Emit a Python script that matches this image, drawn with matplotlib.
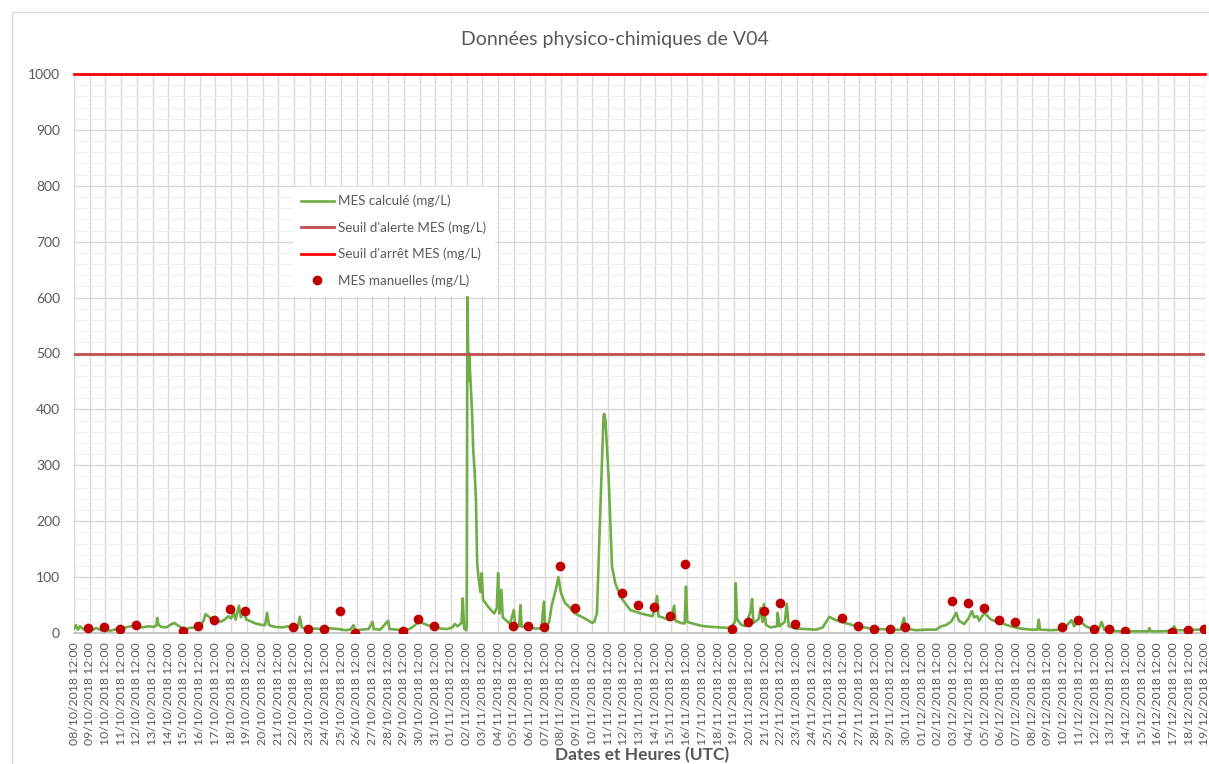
import matplotlib
matplotlib.use("Agg")
import matplotlib.pyplot as plt
import matplotlib.dates as mdates
import pandas as pd
from matplotlib.patches import Rectangle

plt.rcParams['font.family'] = ['Lato', 'DejaVu Sans']

# ---------------- data ----------------
title = "Données physico-chimiques de V04"
xlabel = "Dates et Heures (UTC)"

mes_calc_times = [
    "2018-10-08 12:00", "2018-10-08 15:00", "2018-10-08 18:00", "2018-10-08 21:00", "2018-10-09 03:00",
    "2018-10-09 10:00", "2018-10-09 16:00", "2018-10-09 22:00", "2018-10-10 05:00", "2018-10-10 12:00",
    "2018-10-10 20:00", "2018-10-11 04:00", "2018-10-11 11:00", "2018-10-11 19:00", "2018-10-12 03:00",
    "2018-10-12 11:00", "2018-10-12 20:00", "2018-10-13 06:00", "2018-10-13 15:00", "2018-10-13 18:00",
    "2018-10-13 19:00", "2018-10-13 21:00", "2018-10-14 01:00", "2018-10-14 09:00", "2018-10-14 16:00",
    "2018-10-14 21:00", "2018-10-15 02:00", "2018-10-15 08:00", "2018-10-15 14:00", "2018-10-15 20:00",
    "2018-10-16 05:00", "2018-10-16 12:00", "2018-10-16 18:00", "2018-10-16 21:00", "2018-10-17 03:00",
    "2018-10-17 08:00", "2018-10-17 14:00", "2018-10-17 20:00", "2018-10-18 02:00", "2018-10-18 08:00",
    "2018-10-18 12:00", "2018-10-18 16:00", "2018-10-18 19:00", "2018-10-19 00:00", "2018-10-19 03:00",
    "2018-10-19 08:00", "2018-10-19 11:00", "2018-10-19 16:00", "2018-10-20 01:00", "2018-10-20 08:00",
    "2018-10-20 16:00", "2018-10-20 19:00", "2018-10-20 22:00", "2018-10-21 07:00", "2018-10-21 18:00",
    "2018-10-22 03:00", "2018-10-22 09:00", "2018-10-22 18:00", "2018-10-22 21:00", "2018-10-23 00:00",
    "2018-10-23 10:00", "2018-10-23 21:00", "2018-10-24 05:00", "2018-10-24 14:00", "2018-10-25 00:00",
    "2018-10-25 09:00", "2018-10-25 18:00", "2018-10-26 02:00", "2018-10-26 07:00", "2018-10-26 10:00",
    "2018-10-26 20:00", "2018-10-27 06:00", "2018-10-27 12:00", "2018-10-27 14:00", "2018-10-28 00:00",
    "2018-10-28 12:00", "2018-10-28 14:00", "2018-10-29 02:00", "2018-10-29 12:00", "2018-10-29 22:00",
    "2018-10-30 06:00", "2018-10-30 12:00", "2018-10-30 16:00", "2018-10-31 00:00", "2018-10-31 10:00",
    "2018-10-31 20:00", "2018-11-01 06:00", "2018-11-01 14:00", "2018-11-01 18:00", "2018-11-01 22:00",
    "2018-11-02 04:00", "2018-11-02 06:00", "2018-11-02 08:00", "2018-11-02 11:00", "2018-11-02 12:00",
    "2018-11-02 13:00", "2018-11-02 14:00", "2018-11-02 15:00", "2018-11-02 16:00", "2018-11-02 17:00",
    "2018-11-02 20:00", "2018-11-02 22:00", "2018-11-03 00:00", "2018-11-03 02:00", "2018-11-03 04:00",
    "2018-11-03 06:00", "2018-11-03 09:00", "2018-11-03 11:00", "2018-11-03 13:00", "2018-11-03 16:00",
    "2018-11-03 20:00", "2018-11-04 02:00", "2018-11-04 06:00", "2018-11-04 10:00", "2018-11-04 12:00",
    "2018-11-04 14:00", "2018-11-04 17:00", "2018-11-04 19:00", "2018-11-05 00:00", "2018-11-05 06:00",
    "2018-11-05 12:00", "2018-11-05 14:00", "2018-11-05 20:00", "2018-11-05 22:00", "2018-11-06 00:00",
    "2018-11-06 06:00", "2018-11-06 14:00", "2018-11-06 22:00", "2018-11-07 06:00", "2018-11-07 10:00",
    "2018-11-07 12:00", "2018-11-07 18:00", "2018-11-07 22:00", "2018-11-08 04:00", "2018-11-08 08:00",
    "2018-11-08 12:00", "2018-11-08 18:00", "2018-11-09 02:00", "2018-11-09 08:00", "2018-11-09 18:00",
    "2018-11-10 02:00", "2018-11-10 09:00", "2018-11-10 12:00", "2018-11-10 15:00", "2018-11-10 19:00",
    "2018-11-11 00:00", "2018-11-11 05:00", "2018-11-11 06:00", "2018-11-11 08:00", "2018-11-11 13:00",
    "2018-11-11 18:00", "2018-11-11 23:00", "2018-11-12 07:00", "2018-11-12 15:00", "2018-11-12 22:00",
    "2018-11-13 14:00", "2018-11-14 00:00", "2018-11-14 08:00", "2018-11-14 15:00", "2018-11-14 17:00",
    "2018-11-14 23:00", "2018-11-15 09:00", "2018-11-15 13:00", "2018-11-15 17:00", "2018-11-15 19:00",
    "2018-11-16 03:00", "2018-11-16 09:00", "2018-11-16 11:00", "2018-11-16 13:00", "2018-11-16 18:00",
    "2018-11-17 10:00", "2018-11-18 01:00", "2018-11-18 16:00", "2018-11-19 07:00", "2018-11-19 14:00",
    "2018-11-19 15:00", "2018-11-19 17:00", "2018-11-19 23:00", "2018-11-20 06:00", "2018-11-20 14:00",
    "2018-11-20 16:00", "2018-11-20 18:00", "2018-11-21 02:00", "2018-11-21 05:00", "2018-11-21 08:00",
    "2018-11-21 10:00", "2018-11-21 13:00", "2018-11-21 20:00", "2018-11-22 06:00", "2018-11-22 07:00",
    "2018-11-22 10:00", "2018-11-22 18:00", "2018-11-22 21:00", "2018-11-23 00:00", "2018-11-23 11:00",
    "2018-11-24 02:00", "2018-11-24 18:00", "2018-11-25 04:00", "2018-11-25 14:00", "2018-11-25 22:00",
    "2018-11-26 08:00", "2018-11-26 23:00", "2018-11-27 14:00", "2018-11-28 06:00", "2018-11-28 21:00",
    "2018-11-29 12:00", "2018-11-30 03:00", "2018-11-30 08:00", "2018-11-30 11:00", "2018-12-01 02:00",
    "2018-12-01 18:00", "2018-12-02 09:00", "2018-12-02 17:00", "2018-12-03 00:00", "2018-12-03 08:00",
    "2018-12-03 16:00", "2018-12-03 20:00", "2018-12-04 04:00", "2018-12-04 10:00", "2018-12-04 16:00",
    "2018-12-04 19:00", "2018-12-05 00:00", "2018-12-05 03:00", "2018-12-05 11:00", "2018-12-05 21:00",
    "2018-12-06 12:00", "2018-12-07 03:00", "2018-12-07 18:00", "2018-12-08 10:00", "2018-12-08 20:00",
    "2018-12-08 22:00", "2018-12-09 00:00", "2018-12-09 17:00", "2018-12-10 08:00", "2018-12-10 16:00",
    "2018-12-11 00:00", "2018-12-11 04:00", "2018-12-11 12:00", "2018-12-11 22:00", "2018-12-12 11:00",
    "2018-12-12 18:00", "2018-12-12 22:00", "2018-12-13 02:00", "2018-12-13 13:00", "2018-12-14 04:00",
    "2018-12-14 19:00", "2018-12-15 11:00", "2018-12-15 21:00", "2018-12-15 23:00", "2018-12-16 01:00",
    "2018-12-16 17:00", "2018-12-17 08:00", "2018-12-17 13:00", "2018-12-17 16:00", "2018-12-18 07:00",
    "2018-12-18 23:00", "2018-12-19 12:00",
]
mes_calc_values = [
    8, 14, 6, 12, 6,
    8, 5, 9, 5, 6,
    4, 7, 6, 10, 12,
    13, 10, 12, 11, 14,
    27, 15, 11, 10, 15,
    18, 14, 10, 6, 9,
    10, 12, 22, 34, 28,
    22, 24, 20, 24, 30,
    26, 36, 24, 49, 28,
    38, 24, 22, 17, 15,
    14, 36, 14, 11, 10,
    12, 8, 10, 29, 10,
    7, 8, 7, 9, 8,
    7, 5, 6, 14, 5,
    6, 7, 20, 7, 6,
    22, 7, 6, 4, 8,
    15, 22, 18, 14, 11,
    8, 7, 10, 16, 12,
    18, 62, 8, 5, 10,
    603, 520, 452, 500, 470,
    400, 327, 290, 243, 125,
    100, 73, 107, 59, 55,
    48, 40, 35, 45, 107,
    35, 77, 28, 23, 16,
    41, 14, 12, 50, 11,
    12, 9, 8, 8, 56,
    10, 20, 50, 77, 100,
    72, 54, 45, 36, 30,
    25, 20, 18, 20, 36,
    215, 387, 392, 380, 274,
    119, 89, 65, 52, 41,
    35, 32, 30, 66, 30,
    28, 23, 30, 49, 22,
    18, 17, 83, 20, 18,
    13, 11, 10, 9, 20,
    89, 25, 15, 12, 40,
    61, 18, 25, 45, 20,
    52, 15, 10, 12, 36,
    12, 20, 52, 12, 8,
    7, 6, 10, 29, 24,
    20, 15, 11, 8, 7,
    6, 6, 27, 8, 5,
    6, 6, 12, 14, 20,
    36, 22, 16, 25, 39,
    28, 30, 22, 36, 24,
    18, 12, 8, 6, 6,
    24, 6, 5, 6, 12,
    23, 12, 22, 12, 6,
    8, 20, 6, 4, 3,
    3, 3, 3, 9, 3,
    3, 4, 12, 5, 5,
    6, 6,
]

mes_manual_dates = [
    "2018-10-09", "2018-10-10", "2018-10-11", "2018-10-12", "2018-10-15", "2018-10-16", "2018-10-17",
    "2018-10-18", "2018-10-19", "2018-10-22", "2018-10-23", "2018-10-24", "2018-10-25", "2018-10-26",
    "2018-10-29", "2018-10-30", "2018-10-31", "2018-11-05", "2018-11-06", "2018-11-07", "2018-11-08",
    "2018-11-09", "2018-11-12", "2018-11-13", "2018-11-14", "2018-11-15", "2018-11-16", "2018-11-19",
    "2018-11-20", "2018-11-21", "2018-11-22", "2018-11-23", "2018-11-26", "2018-11-27", "2018-11-28",
    "2018-11-29", "2018-11-30", "2018-12-03", "2018-12-04", "2018-12-05", "2018-12-06", "2018-12-07",
    "2018-12-10", "2018-12-11", "2018-12-12", "2018-12-13", "2018-12-14", "2018-12-17", "2018-12-18",
    "2018-12-19",
]
mes_manual_hour = "10:00"
mes_manual_values = [
    9.5, 10, 8, 14, 4, 13, 24,
    43, 39, 11, 8, 8, 39, 0.5,
    3, 25, 12, 12, 13, 11, 120,
    44, 71, 50, 46, 31, 123, 8,
    19, 39, 53, 16, 27, 12, 8,
    7, 11, 58, 54, 44, 23, 20,
    10, 23, 7, 7, 4, 1, 5,
    7,
]

seuil_alerte = 500
seuil_arret = 1000

axis_start = "2018-10-08 12:00"
axis_end = "2018-12-19 12:00"
y_ticks = list(range(0, 1001, 100))

labels = ["MES calculé (mg/L)", "Seuil d'alerte MES (mg/L)",
          "Seuil d'arrêt MES (mg/L)", "MES manuelles (mg/L)"]

# ---------------- plot ----------------
W, H = 1209, 764
fig = plt.figure(figsize=(W / 100, H / 100), dpi=100)
fig.patch.set_facecolor("white")

# chart-area border like Excel
fig.patches.append(Rectangle((12 / W, -0.01), 1.2, 1 - 12 / H + 0.01, transform=fig.transFigure,
                             fill=False, edgecolor="#D9D9D9", lw=1, zorder=0))

ax = fig.add_axes([74 / W, 1 - 633 / H, (1205 - 74) / W, (633 - 74) / H])

t_calc = pd.to_datetime(mes_calc_times)
t_man = pd.to_datetime([d + " " + mes_manual_hour for d in mes_manual_dates])
x0 = pd.Timestamp(axis_start)
x1 = pd.Timestamp(axis_end)

grey_txt = "#595959"

l1, = ax.plot(t_calc, mes_calc_values, color="#70AD47", lw=1.9, zorder=3)
l2 = ax.axhline(seuil_alerte, color="#C0504D", lw=2, zorder=4)
l3 = ax.axhline(seuil_arret, color="#FF0000", lw=2, zorder=4, clip_on=False)
l4, = ax.plot(t_man, mes_manual_values, linestyle="none", marker="o", ms=7,
              color="#C00000", markeredgewidth=0, zorder=5)

ax.set_xlim(x0, x1)
ax.set_ylim(0, 1000)
ax.set_yticks(y_ticks)
ax.set_yticks(range(0, 1001, 20), minor=True)

day_ticks = pd.date_range(x0, x1, freq="D")
ax.set_xticks(day_ticks)
ax.set_xticklabels([d.strftime("%d/%m/%Y %H:%M") for d in day_ticks], rotation=90)

ax.grid(which="major", axis="both", color="#D9D9D9", lw=1, zorder=0)
ax.grid(which="minor", axis="y", color="#F0F0F0", lw=0.8, zorder=0)
ax.set_axisbelow(True)

ax.tick_params(axis="both", which="both", length=0)
ax.tick_params(axis="y", labelsize=10, labelcolor=grey_txt, pad=10)
ax.tick_params(axis="x", labelsize=8.8, labelcolor=grey_txt, pad=7)

for s in ["top", "right"]:
    ax.spines[s].set_visible(False)
ax.spines["left"].set_color("#D9D9D9")
ax.spines["bottom"].set_color("#BFBFBF")
ax.spines["bottom"].set_linewidth(1.2)

fig.text(615 / W, 1 - 40 / H, title, ha="center", va="center", fontsize=14, color=grey_txt)
fig.text(642 / W, 1 - 763 / H, xlabel, ha="center", va="bottom", fontsize=12.5,
         fontweight="bold", color=grey_txt)

leg = ax.legend([l1, l2, l3, l4], labels, loc="upper left",
                bbox_to_anchor=((286 - 74) / (1205 - 74), (633 - 180) / (633 - 74)),
                frameon=True, fancybox=False, edgecolor="white", facecolor="white", framealpha=1,
                fontsize=9.6, labelspacing=1.05, handlelength=2.5, borderpad=0.6, handletextpad=0.3)
for t in leg.get_texts():
    t.set_color(grey_txt)
leg.set_zorder(10)

fig.savefig("out.png", dpi=100, facecolor="white")
